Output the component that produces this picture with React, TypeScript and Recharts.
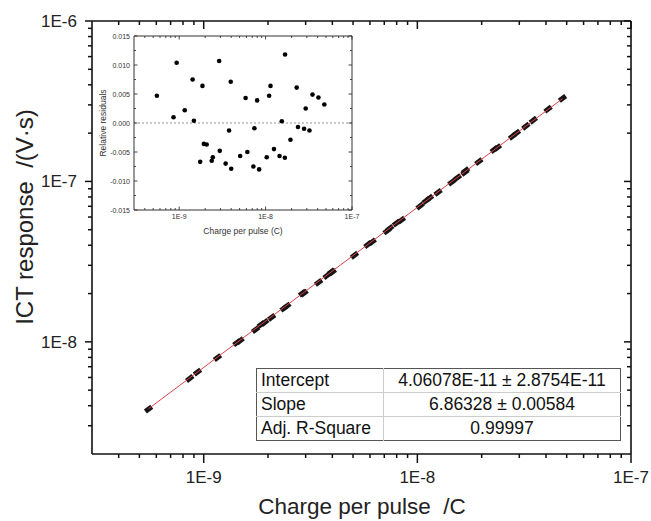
import React from "react";
import { ScatterChart, Scatter, XAxis, YAxis, ReferenceLine } from "recharts";

const chargeC = [
  5.52e-10, 8.6e-10, 9.35e-10, 1.16e-9, 1.43e-9, 1.48e-9, 1.75e-9, 1.86e-9,
  1.93e-9, 2.08e-9, 2.38e-9, 2.45e-9, 2.9e-9, 2.95e-9, 3.45e-9, 3.78e-9,
  3.95e-9, 4.0e-9, 5.08e-9, 5.87e-9, 6.15e-9, 7.22e-9, 7.42e-9, 7.98e-9,
  8.42e-9, 1.03e-8, 1.1e-8, 1.14e-8, 1.25e-8, 1.45e-8, 1.54e-8, 1.67e-8,
  1.68e-8, 1.94e-8, 2.29e-8, 2.37e-8, 2.79e-8, 2.91e-8, 3.22e-8, 3.49e-8,
  4.09e-8, 4.78e-8,
];

// ICT response (V·s)
const ictResponse = [
  3.81e-9, 5.91e-9, 6.48e-9, 7.98e-9, 9.89e-9, 1.016e-8, 1.193e-8, 1.285e-8,
  1.32e-8, 1.422e-8, 1.623e-8, 1.672e-8, 2.012e-8, 2.015e-8, 2.351e-8, 2.591e-8,
  2.73e-8, 2.724e-8, 3.467e-8, 4.046e-8, 4.2e-8, 4.918e-8, 5.088e-8, 5.498e-8,
  5.733e-8, 7.027e-8, 7.585e-8, 7.874e-8, 8.54e-8, 9.895e-8, 1.0572e-7, 1.1392e-7,
  1.1666e-7, 1.3276e-7, 1.5812e-7, 1.6254e-7, 1.9129e-7, 2.0021e-7, 2.207e-7, 2.4069e-7,
  2.8193e-7, 3.291e-7,
];

// relative residuals
const residuals = [
  0.0047, 0.001, 0.0104, 0.0022, 0.0075, 0.0004, -0.0067, 0.0064,
  -0.0036, -0.0037, -0.0065, -0.0059, 0.0107, -0.0048, -0.007, -0.0013,
  0.0071, -0.0079, -0.0057, 0.0043, -0.005, -0.0075, -0.0009, 0.0039,
  -0.008, -0.0059, 0.0047, 0.0064, -0.0045, -0.0057, 0.0003, -0.006,
  0.0118, -0.0029, 0.0061, -0.0007, -0.001, 0.0025, -0.0013, 0.0049,
  0.0044, 0.0032,
];

// linear fit end points
const fitCharge = [5.52e-10, 4.78e-8];
const fitResponse = [3.83e-9, 3.281e-7];

const fitRows = [
  ["Intercept", "4.06078E-11 ± 2.8754E-11"],
  ["Slope", "6.86328 ± 0.00584"],
  ["Adj. R-Square", "0.99997"],
];

const residualTicks = [-0.015, -0.01, -0.005, 0, 0.005, 0.01, 0.015];
const residualMinorTicks = [-0.0125, -0.0075, -0.0025, 0.0025, 0.0075, 0.0125];

const X_DOMAIN: [number, number] = [3e-10, 1e-7];
const Y_DOMAIN: [number, number] = [2e-9, 1e-6];

const FONT = "'Liberation Sans', Arial, sans-serif";
const INK = "#111";

function logTicks(lo: number, hi: number) {
  const out: number[] = [];
  for (let e = -11; e <= -5; e++) {
    for (let m = 1; m <= 9; m++) {
      const v = Number((m * Math.pow(10, e)).toPrecision(3));
      if (v > lo * 1.001 && v <= hi * 1.001) out.push(v);
    }
  }
  return out;
}

const isDecade = (v: number) => {
  const l = Math.log10(v);
  return Math.abs(l - Math.round(l)) < 1e-6;
};
const fmtE = (v: number) => `1E${Math.round(Math.log10(v))}`;

const xTicks = logTicks(X_DOMAIN[0], X_DOMAIN[1]);
const yTicks = logTicks(Y_DOMAIN[0], Y_DOMAIN[1]);

const mainData = chargeC.map((x, i) => ({ x, y: ictResponse[i] }));
const fitData = fitCharge.map((x, i) => ({ x, y: fitResponse[i] }));
const residualData = chargeC.map((x, i) => ({ x, r: residuals[i] }));

// ---- main axis ticks ----
const BottomTick = (p: any) => {
  const major = isDecade(p.payload.value);
  return (
    <g>
      <line x1={p.x} x2={p.x} y1={p.y} y2={p.y + (major ? 9 : 4)} stroke={INK} strokeWidth={1.5} />
      {major && (
        <text x={p.x} y={p.y + 29} textAnchor="middle" fontSize={17} fill="#222" fontFamily={FONT}>
          {fmtE(p.payload.value)}
        </text>
      )}
    </g>
  );
};
const TopTick = (p: any) => {
  const major = isDecade(p.payload.value);
  return <line x1={p.x} x2={p.x} y1={p.y} y2={p.y + (major ? 8 : 4)} stroke={INK} strokeWidth={1.5} />;
};
const LeftTick = (p: any) => {
  const major = isDecade(p.payload.value);
  return (
    <g>
      <line x1={p.x - (major ? 7 : 4)} x2={p.x} y1={p.y} y2={p.y} stroke={INK} strokeWidth={1.5} />
      {major && (
        <text x={p.x - 15} y={p.y + 6} textAnchor="end" fontSize={17} fill="#222" fontFamily={FONT}>
          {fmtE(p.payload.value)}
        </text>
      )}
    </g>
  );
};
const RightTick = (p: any) => {
  const major = isDecade(p.payload.value);
  return <line x1={p.x - (major ? 7 : 4)} x2={p.x} y1={p.y} y2={p.y} stroke={INK} strokeWidth={1.5} />;
};

// ---- inset ticks (all inward) ----
const InBottomTick = (p: any) => {
  const major = isDecade(p.payload.value);
  return (
    <g>
      <line x1={p.x} x2={p.x} y1={p.y} y2={p.y - (major ? 3.5 : 2)} stroke="#333" strokeWidth={0.9} />
      {major && (
        <text x={p.x} y={p.y + 9} textAnchor="middle" fontSize={7} fill="#333" fontFamily={FONT}>
          {fmtE(p.payload.value)}
        </text>
      )}
    </g>
  );
};
const InTopTick = (p: any) => {
  const major = isDecade(p.payload.value);
  return <line x1={p.x} x2={p.x} y1={p.y} y2={p.y + (major ? 3.5 : 2)} stroke="#333" strokeWidth={0.9} />;
};
const InLeftTick = (p: any) => {
  const v = p.payload.value;
  const major = residualTicks.includes(v);
  return (
    <g>
      <line x1={p.x} x2={p.x + (major ? 3.5 : 2)} y1={p.y} y2={p.y} stroke="#333" strokeWidth={0.9} />
      {major && (
        <text x={p.x - 4} y={p.y + 2.5} textAnchor="end" fontSize={7} fill="#333" fontFamily={FONT}>
          {v.toFixed(3)}
        </text>
      )}
    </g>
  );
};
const InRightTick = (p: any) => {
  const major = residualTicks.includes(p.payload.value);
  return <line x1={p.x - (major ? 3.5 : 2)} x2={p.x} y1={p.y} y2={p.y} stroke="#333" strokeWidth={0.9} />;
};

const MainMarker = (p: any) => (
  <rect
    x={p.cx - 4}
    y={p.cy - 2.5}
    width={8}
    height={5}
    fill="#151515"
    transform={`rotate(-37 ${p.cx} ${p.cy})`}
  />
);
const InsetMarker = (p: any) => <circle cx={p.cx} cy={p.cy} r={2.3} fill="#000" />;
const NoMarker = () => <g />;

function Inset() {
  const allY = [...residualTicks, ...residualMinorTicks].sort((a, b) => a - b);
  const axisStyle = { stroke: "#333", strokeWidth: 1 };
  return (
    <div style={{ position: "absolute", left: 80, top: 26 }}>
      <ScatterChart width={290} height={220} margin={{ top: 9, right: 17, bottom: 0, left: 0 }}>
        <XAxis
          xAxisId="b" dataKey="x" type="number" scale="log" domain={X_DOMAIN} allowDataOverflow
          ticks={xTicks} interval={0} tickSize={0} tickMargin={0} height={36}
          tick={InBottomTick} tickLine={false} axisLine={axisStyle}
        />
        <XAxis
          xAxisId="t" orientation="top" dataKey="x" type="number" scale="log" domain={X_DOMAIN} allowDataOverflow
          ticks={xTicks} interval={0} tickSize={0} tickMargin={0} height={1}
          tick={InTopTick} tickLine={false} axisLine={axisStyle}
        />
        <YAxis
          yAxisId="l" dataKey="r" type="number" domain={[-0.015, 0.015]} allowDataOverflow
          ticks={allY} interval={0} tickSize={0} tickMargin={0} width={54}
          tick={InLeftTick} tickLine={false} axisLine={axisStyle}
        />
        <YAxis
          yAxisId="rt" orientation="right" dataKey="r" type="number" domain={[-0.015, 0.015]} allowDataOverflow
          ticks={allY} interval={0} tickSize={0} tickMargin={0} width={1}
          tick={InRightTick} tickLine={false} axisLine={axisStyle}
        />
        <ReferenceLine xAxisId="b" yAxisId="l" y={0} stroke="#777" strokeDasharray="2 2" strokeWidth={0.8} />
        <Scatter xAxisId="b" yAxisId="l" data={residualData} shape={InsetMarker} isAnimationActive={false} />
        <Scatter xAxisId="t" yAxisId="rt" data={residualData} shape={NoMarker} isAnimationActive={false} />
      </ScatterChart>
      <div
        style={{
          position: "absolute", left: 23, top: 97, transform: "translate(-50%, -50%) rotate(-90deg)",
          fontSize: 8.5, color: "#333", fontFamily: FONT, whiteSpace: "nowrap",
        }}
      >
        Relative residuals
      </div>
      <div
        style={{
          position: "absolute", left: 163, top: 205, transform: "translate(-50%, -50%)",
          fontSize: 8.5, color: "#333", fontFamily: FONT, whiteSpace: "nowrap",
        }}
      >
        Charge per pulse (C)
      </div>
    </div>
  );
}

function FitTable() {
  return (
    <table
      style={{
        position: "absolute", left: 256, top: 368, width: 365, height: 72,
        borderCollapse: "collapse", border: "1px solid #555", background: "#fff",
        fontFamily: FONT, fontSize: 17.5, color: "#111",
      }}
    >
      <tbody>
        {fitRows.map((row, i) => (
          <tr key={i} style={{ height: 24 }}>
            <td style={{ width: 122, padding: "0 0 0 4px", borderTop: i ? "1px solid #ccc" : undefined, borderRight: "1px solid #ccc", lineHeight: "23px" }}>
              {row[0]}
            </td>
            <td style={{ textAlign: "center", padding: 0, borderTop: i ? "1px solid #ccc" : undefined, lineHeight: "23px" }}>
              {row[1]}
            </td>
          </tr>
        ))}
      </tbody>
    </table>
  );
}

export default function App() {
  const axisStyle = { stroke: INK, strokeWidth: 1.6 };
  return (
    <div style={{ position: "absolute", left: 0, top: 0, width: 651, height: 521, background: "#fff", overflow: "hidden" }}>
      <ScatterChart width={651} height={521} margin={{ top: 20, right: 19, bottom: 0, left: 0 }}>
        <XAxis
          xAxisId="b" dataKey="x" type="number" scale="log" domain={X_DOMAIN} allowDataOverflow
          ticks={xTicks} interval={0} tickSize={0} tickMargin={0} height={67}
          tick={BottomTick} tickLine={false} axisLine={axisStyle}
        />
        <XAxis
          xAxisId="t" orientation="top" dataKey="x" type="number" scale="log" domain={X_DOMAIN} allowDataOverflow
          ticks={xTicks} interval={0} tickSize={0} tickMargin={0} height={1}
          tick={TopTick} tickLine={false} axisLine={axisStyle}
        />
        <YAxis
          yAxisId="l" dataKey="y" type="number" scale="log" domain={Y_DOMAIN} allowDataOverflow
          ticks={yTicks} interval={0} tickSize={0} tickMargin={0} width={92}
          tick={LeftTick} tickLine={false} axisLine={axisStyle}
        />
        <YAxis
          yAxisId="r" orientation="right" dataKey="y" type="number" scale="log" domain={Y_DOMAIN} allowDataOverflow
          ticks={yTicks} interval={0} tickSize={0} tickMargin={0} width={1}
          tick={RightTick} tickLine={false} axisLine={axisStyle}
        />
        <Scatter xAxisId="b" yAxisId="l" data={mainData} shape={MainMarker} isAnimationActive={false} />
        <Scatter
          xAxisId="t" yAxisId="r" data={fitData} shape={NoMarker}
          line={{ stroke: "#e0404a", strokeWidth: 1 }} isAnimationActive={false}
        />
      </ScatterChart>
      <div
        style={{
          position: "absolute", left: 25, top: 217, transform: "translate(-50%, -50%) rotate(-90deg)",
          fontSize: 24, color: "#222", fontFamily: FONT, whiteSpace: "pre",
        }}
      >
        {"ICT response  /(V·s)"}
      </div>
      <div
        style={{
          position: "absolute", left: 362, top: 507, transform: "translate(-50%, -50%)",
          fontSize: 22.5, color: "#222", fontFamily: FONT, whiteSpace: "pre",
        }}
      >
        {"Charge per pulse  /C"}
      </div>
      <Inset />
      <FitTable />
    </div>
  );
}
